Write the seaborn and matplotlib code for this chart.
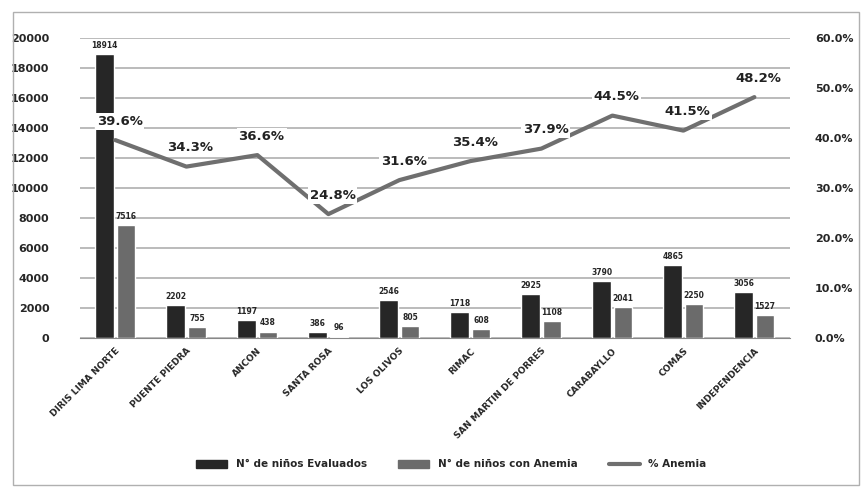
import pandas as pd
import matplotlib.pyplot as plt
import seaborn as sns
from matplotlib.patches import Rectangle
from matplotlib.lines import Line2D
from matplotlib.ticker import FuncFormatter

sns.set_style("white")
plt.rcParams['font.family'] = ['DejaVu Sans']

# Data
distritos = ["DIRIS LIMA NORTE", "PUENTE PIEDRA", "ANCON", "SANTA ROSA", "LOS OLIVOS",
             "RIMAC", "SAN MARTIN DE PORRES", "CARABAYLLO", "COMAS", "INDEPENDENCIA"]
evaluados = [18914, 2202, 1197, 386, 2546, 1718, 2925, 3790, 4865, 3056]
con_anemia = [7516, 755, 438, 96, 805, 608, 1108, 2041, 2250, 1527]
pct_anemia = [39.6, 34.3, 36.6, 24.8, 31.6, 35.4, 37.9, 44.5, 41.5, 48.2]

serie_eval = "N° de niños Evaluados"
serie_anem = "N° de niños con Anemia"
serie_pct = "% Anemia"

df = pd.DataFrame({
    'Distrito': distritos * 2,
    'Serie': [serie_eval] * len(distritos) + [serie_anem] * len(distritos),
    'Valor': evaluados + con_anemia,
})

fig = plt.figure(figsize=(8.68, 4.95), dpi=100)
ax = fig.add_axes([0.092, 0.317, 0.818, 0.606])

colors = ['#262626', '#6b6b6b']
sns.barplot(data=df, x='Distrito', y='Valor', hue='Serie', palette=colors,
            width=0.6, gap=0.12, ax=ax, legend=False, saturation=1)
ax.set_ylim(0, 20000)
ax.set_yticks(range(0, 20001, 2000))
ax.set_xlim(-0.5, len(distritos) - 0.5)
ax.grid(axis='y', color='#a8a8a8', lw=1.1)
ax.set_axisbelow(True)
for s in ['top', 'right', 'left']:
    ax.spines[s].set_visible(False)
ax.spines['bottom'].set_color('#888888')
ax.set_xlabel('')
ax.set_ylabel('')
ax.tick_params(axis='y', labelsize=8, length=0, pad=22)
for t in ax.get_yticklabels():
    t.set_fontweight('bold')
ax.set_xticks(range(len(distritos)))
ax.set_xticklabels(distritos, rotation=45, ha='right', rotation_mode='anchor',
                   fontsize=6.5, fontweight='bold')
ax.tick_params(axis='x', length=0, pad=6)

for cont, vals in zip(ax.containers, [evaluados, con_anemia]):
    ax.bar_label(cont, labels=[str(v) for v in vals], fontsize=5.5, fontweight='bold', padding=3)

# % anemia line on secondary axis
ax2 = ax.twinx()
ax2.plot(range(len(distritos)), pct_anemia, color='#6f6f6f', lw=3)
ax2.set_ylim(0, 60)
ax2.set_yticks(range(0, 61, 10))
ax2.yaxis.set_major_formatter(FuncFormatter(lambda v, p: f"{v:.1f}%"))
ax2.tick_params(axis='y', labelsize=8, length=0, pad=18)
for t in ax2.get_yticklabels():
    t.set_fontweight('bold')
for s in ['top', 'right', 'left', 'bottom']:
    ax2.spines[s].set_visible(False)

for i, p in enumerate(pct_anemia):
    ax2.annotate(f"{p}%", (i, p), xytext=(3, 9), textcoords='offset points',
                 ha='center', va='bottom', fontsize=9.5, fontweight='bold', color='#222222',
                 bbox=dict(boxstyle='square,pad=0.15', fc='white', ec='none'))

handles = [Rectangle((0, 0), 1, 1, color=colors[0]),
           Rectangle((0, 0), 1, 1, color=colors[1]),
           Line2D([0], [0], color='#6f6f6f', lw=3)]
leg = fig.legend(handles, [serie_eval, serie_anem, serie_pct], loc='center',
                 bbox_to_anchor=(0.52, 0.062), ncol=3, frameon=False,
                 prop={'size': 7.5, 'weight': 'bold'},
                 handlelength=3, handleheight=0.8, columnspacing=3)

fig.add_artist(Rectangle((0.015, 0.02), 0.975, 0.955, transform=fig.transFigure,
                         fill=False, ec='#b0b0b0', lw=1))

fig.savefig('out.png', dpi=100)
